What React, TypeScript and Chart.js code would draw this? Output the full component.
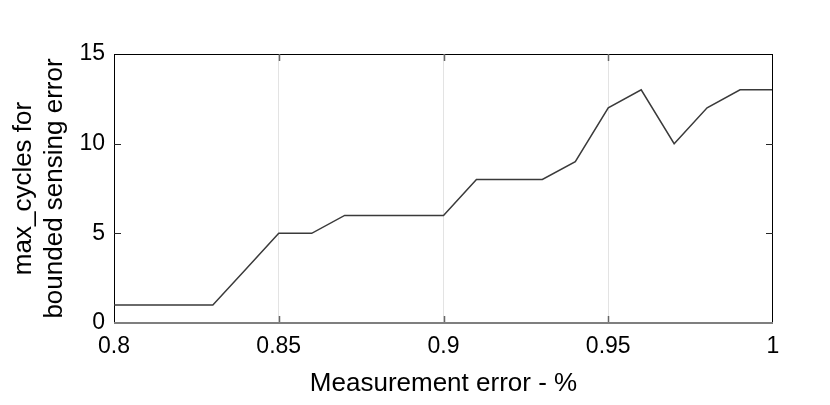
import React, { useEffect, useRef } from "react";
import { Chart, registerables } from "chart.js";

Chart.register(...registerables);

const xValues = [0.8, 0.81, 0.82, 0.83, 0.84, 0.85, 0.86, 0.87, 0.88, 0.89, 0.9, 0.91, 0.92, 0.93, 0.94, 0.95, 0.96, 0.97, 0.98, 0.99, 1.0];
const maxCycles = [1, 1, 1, 1, 3, 5, 5, 6, 6, 6, 6, 8, 8, 8, 9, 12, 13, 10, 12, 13, 13];
const xTickValues = [0.8, 0.85, 0.9, 0.95, 1];
const yTickValues = [0, 5, 10, 15];
const xTitle = "Measurement error - %";
const yTitle = ["max_cycles for", "bounded sensing error"];

const FONT = "'Liberation Sans', Arial, sans-serif";

const framePlugin = {
  id: "frame",
  afterDraw(chart: any) {
    const { ctx, chartArea } = chart;
    const { left, right, top, bottom } = chartArea;
    const xs = chart.scales.x;
    const ys = chart.scales.y;
    ctx.save();
    ctx.lineWidth = 1;
    ctx.strokeStyle = "#000";
    ctx.beginPath();
    ctx.moveTo(left, top + 0.5);
    ctx.lineTo(right, top + 0.5);
    ctx.moveTo(right - 0.5, top);
    ctx.lineTo(right - 0.5, bottom);
    ctx.stroke();
    const len = 7;
    ctx.strokeStyle = "#262626";
    ctx.beginPath();
    for (const v of yTickValues) {
      if (v === 0 || v === 15) continue;
      const py = Math.round(ys.getPixelForValue(v)) + 0.5;
      ctx.moveTo(left, py);
      ctx.lineTo(left + len, py);
      ctx.moveTo(right, py);
      ctx.lineTo(right - len, py);
    }
    ctx.stroke();
    ctx.strokeStyle = "#666";
    ctx.lineWidth = 1.5;
    ctx.beginPath();
    for (const v of xTickValues) {
      if (v === 0.8 || v === 1) continue;
      const px = Math.round(xs.getPixelForValue(v)) + 0.5;
      ctx.moveTo(px, bottom);
      ctx.lineTo(px, bottom - len);
      ctx.moveTo(px, top);
      ctx.lineTo(px, top + len);
    }
    ctx.stroke();
    ctx.strokeStyle = "#7f7f7f";
    ctx.lineWidth = 2;
    ctx.beginPath();
    ctx.moveTo(left, bottom);
    ctx.lineTo(right, bottom);
    ctx.stroke();
    ctx.restore();
  },
};

export default function App() {
  const ref = useRef<HTMLCanvasElement>(null);
  useEffect(() => {
    if (!ref.current) return;
    const chart = new Chart(ref.current, {
      type: "line",
      data: {
        datasets: [
          {
            data: xValues.map((x, i) => ({ x, y: maxCycles[i] })),
            borderColor: "#3a3a3a",
            borderWidth: 1.5,
            pointRadius: 0,
            tension: 0,
            fill: false,
          },
        ],
      },
      plugins: [framePlugin],
      options: {
        responsive: false,
        animation: false,
        layout: { padding: { left: 0, right: 57, top: 54, bottom: 0 } },
        plugins: { legend: { display: false }, tooltip: { enabled: false } },
        scales: {
          x: {
            type: "linear",
            min: 0.8,
            max: 1,
            afterBuildTicks(scale: any) {
              scale.ticks = xTickValues.map((v) => ({ value: v }));
            },
            afterFit(scale: any) {
              scale.height = 82;
            },
            ticks: {
              color: "#000",
              font: { family: FONT, size: 23 },
              padding: 10,
              maxRotation: 0,
              autoSkip: false,
              callback: (v: any) => String(parseFloat(Number(v).toFixed(2))),
            },
            grid: {
              drawTicks: false,
              color: (c: any) => {
                const v = c.tick ? c.tick.value : null;
                return v === 0.8 || v === 1 ? "rgba(0,0,0,0)" : "#e3e3e3";
              },
              lineWidth: 1,
            },
            border: { display: false },
            title: {
              display: true,
              text: xTitle,
              color: "#000",
              font: { family: FONT, size: 26 },
              padding: { top: 0, bottom: 6 },
            },
          },
          y: {
            type: "linear",
            min: 0,
            max: 15,
            afterBuildTicks(scale: any) {
              scale.ticks = yTickValues.map((v) => ({ value: v }));
            },
            afterFit(scale: any) {
              scale.width = 114;
            },
            ticks: {
              color: "#000",
              font: { family: FONT, size: 23 },
              padding: 9,
              autoSkip: false,
            },
            grid: { display: false, drawTicks: false },
            border: { display: true, color: "#000", width: 1 },
            title: {
              display: true,
              text: yTitle,
              color: "#000",
              font: { family: FONT, size: 26, lineHeight: 1.2 },
              padding: { top: 8, bottom: 0 },
            },
          },
        },
      },
    });
    return () => chart.destroy();
  }, []);
  return (
    <div style={{ position: "fixed", left: 0, top: 0, width: 830, height: 405, background: "#fff" }}>
      <canvas ref={ref} width={830} height={405} />
    </div>
  );
}
